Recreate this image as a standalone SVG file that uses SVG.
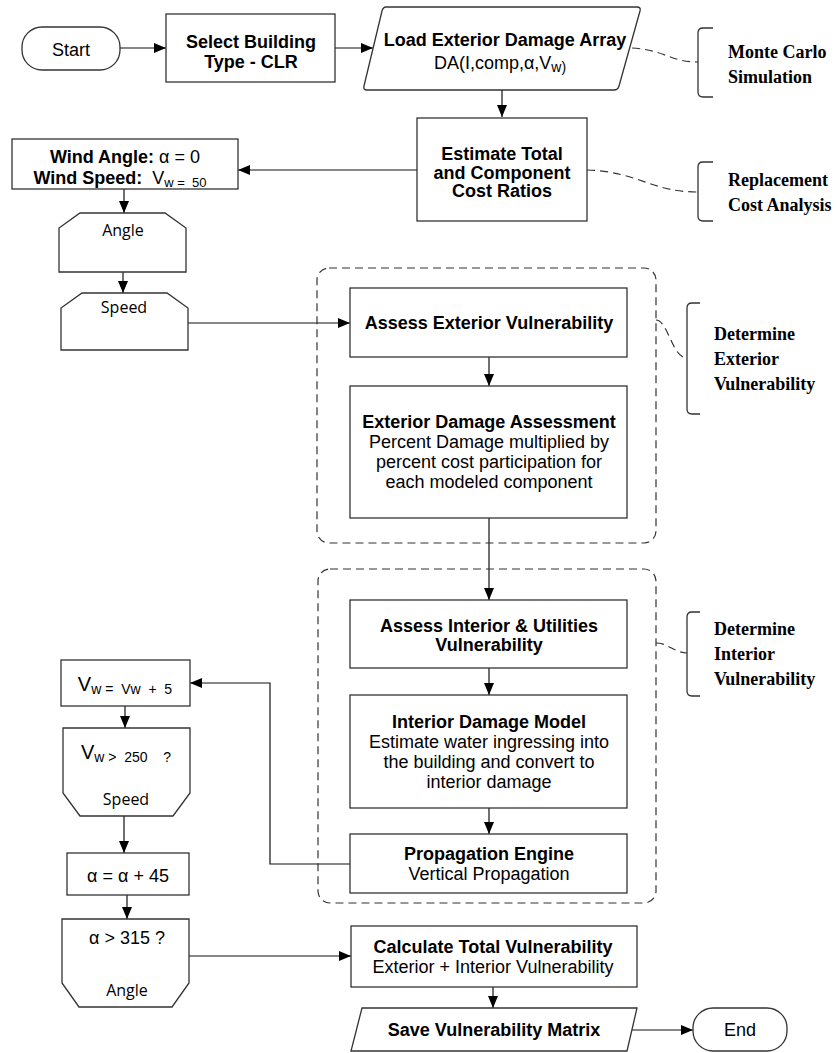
<svg xmlns="http://www.w3.org/2000/svg" width="838" height="1053" viewBox="0 0 838 1053">
<defs>
<marker id="ah" viewBox="0 0 12 10" refX="12" refY="5" markerWidth="12" markerHeight="10" markerUnits="userSpaceOnUse" orient="auto">
<path d="M0,0 L12,5 L0,10 Z" fill="#000"/>
</marker>
<style>
.box{fill:#fff;stroke:#333;stroke-width:1.3}
.cont{fill:none;stroke:#333;stroke-width:1.2;stroke-dasharray:8,5}
.con{fill:none;stroke:#111;stroke-width:1.2}
.dash{fill:none;stroke:#333;stroke-width:1.2;stroke-dasharray:8,5}
.br{fill:none;stroke:#333;stroke-width:1.3}
.b{font-family:"Liberation Sans",Arial,sans-serif;font-weight:bold;font-size:18px;fill:#000;text-anchor:middle}
.r{font-family:"Liberation Sans",Arial,sans-serif;font-size:18px;fill:#000;text-anchor:middle}
.o{font-family:"Open Sans","Noto Sans",sans-serif;font-size:16px;fill:#000;text-anchor:middle}
.s{font-family:"Liberation Serif","Times New Roman",serif;font-weight:bold;font-size:18px;fill:#000}
</style>
</defs>

<g id="connectors">
<path class="con" d="M120,48 H166" marker-end="url(#ah)"/>
<path class="con" d="M335,48 H373" marker-end="url(#ah)"/>
<path class="con" d="M502,90 V117" marker-end="url(#ah)"/>
<path class="con" d="M417,170 H238" marker-end="url(#ah)"/>
<path class="con" d="M124,189 V213" marker-end="url(#ah)"/>
<path class="con" d="M123,272 V293" marker-end="url(#ah)"/>
<path class="con" d="M188,323 H350" marker-end="url(#ah)"/>
<path class="con" d="M489,357 V386" marker-end="url(#ah)"/>
<path class="con" d="M489,518 V600" marker-end="url(#ah)"/>
<path class="con" d="M489,668 V695" marker-end="url(#ah)"/>
<path class="con" d="M489,808 V834" marker-end="url(#ah)"/>
<path class="con" d="M350,864 H270 V683 H190" marker-end="url(#ah)"/>
<path class="con" d="M125,706 V728" marker-end="url(#ah)"/>
<path class="con" d="M124,816 V853" marker-end="url(#ah)"/>
<path class="con" d="M127,895 V919" marker-end="url(#ah)"/>
<path class="con" d="M189,956 H351" marker-end="url(#ah)"/>
<path class="con" d="M493,987 V1008" marker-end="url(#ah)"/>
<path class="con" d="M632,1030 H693" marker-end="url(#ah)"/>
<path class="dash" d="M632,48 C665,50 670,62 698,62"/>
<path class="dash" d="M587,170 C640,172 650,192 698,192"/>
<path class="dash" d="M656,320 C668,320 672,358 687,358"/>
<path class="dash" d="M656,643 C668,643 675,653 687,653"/>
</g>

<g id="containers">
<rect class="cont" x="317" y="268" width="339" height="275" rx="12"/>
<rect class="cont" x="318" y="569" width="338" height="334" rx="12"/>
</g>

<g id="start">
<rect class="box" x="22" y="27" width="98" height="43" rx="20"/>
<text class="r" x="71" y="56">Start</text>
</g>

<g id="select-building">
<rect class="box" x="166" y="14" width="169" height="68"/>
<text class="b" x="251" y="48" font-size="19">Select Building</text>
<text class="b" x="251" y="68" font-size="19">Type - CLR</text>
</g>

<g id="load-array">
<path class="box" d="M386,7 H637 Q641,7 640,11 L619,86 Q618,90 614,90 H367 Q363,90 364,86 L382,11 Q383,7 386,7 Z"/>
<text class="b" x="505" y="46">Load Exterior Damage Array</text>
<text class="r" x="500" y="69" font-size="19">DA(I,comp,α,V<tspan font-size="14" dy="3">w)</tspan></text>
</g>

<g id="estimate-cost">
<rect class="box" x="417" y="118" width="170" height="103"/>
<text class="b" x="502" y="160">Estimate Total</text>
<text class="b" x="502" y="179">and Component</text>
<text class="b" x="502" y="197">Cost Ratios</text>
</g>

<g id="wind-init">
<rect class="box" x="12" y="139" width="226" height="50"/>
<text class="r" x="125" y="163"><tspan font-weight="bold">Wind Angle:</tspan> α = 0</text>
<text class="r" x="120" y="184" xml:space="preserve"><tspan font-weight="bold">Wind Speed:</tspan>  V<tspan font-size="13" dy="3">w =  50</tspan></text>
</g>

<g id="angle-loop">
<path class="box" d="M80,213 H165 L186,228 V272 H59 V228 Z"/>
<text class="o" x="123" y="236">Angle</text>
</g>

<g id="speed-loop">
<path class="box" d="M82,293 H167 L188,308 V350 H61 V308 Z"/>
<text class="o" x="124" y="313">Speed</text>
</g>

<g id="assess-exterior">
<rect class="box" x="350" y="288" width="277" height="69"/>
<text class="b" x="489" y="329">Assess Exterior Vulnerability</text>
</g>

<g id="exterior-damage">
<rect class="box" x="350" y="386" width="277" height="132"/>
<text class="b" x="489" y="428">Exterior Damage Assessment</text>
<text class="r" x="489" y="448">Percent Damage multiplied by</text>
<text class="r" x="489" y="468">percent cost participation for</text>
<text class="r" x="489" y="488">each modeled component</text>
</g>

<g id="assess-interior">
<rect class="box" x="350" y="600" width="277" height="68"/>
<text class="b" x="489" y="632">Assess Interior &amp; Utilities</text>
<text class="b" x="489" y="651">Vulnerability</text>
</g>

<g id="interior-damage">
<rect class="box" x="350" y="695" width="277" height="113"/>
<text class="b" x="489" y="728">Interior Damage Model</text>
<text class="r" x="489" y="748">Estimate water ingressing into</text>
<text class="r" x="489" y="768">the building and convert to</text>
<text class="r" x="489" y="788">interior damage</text>
</g>

<g id="propagation">
<rect class="box" x="350" y="834" width="277" height="59"/>
<text class="b" x="489" y="860">Propagation Engine</text>
<text class="r" x="489" y="880">Vertical Propagation</text>
</g>

<g id="speed-increment">
<rect class="box" x="61" y="660" width="129" height="46"/>
<text class="r" x="125" y="691" xml:space="preserve"><tspan font-size="20">V</tspan><tspan font-size="14" dy="3">w =  Vw  +  5</tspan></text>
</g>

<g id="speed-check">
<path class="box" d="M63,728 H190 V793 L173,816 H80 L63,793 Z"/>
<text class="r" x="126" y="759" xml:space="preserve"><tspan font-size="20">V</tspan><tspan font-size="14" dy="3">w &gt;  250    ?</tspan></text>
<text class="o" x="126" y="805">Speed</text>
</g>

<g id="angle-increment">
<rect class="box" x="67" y="853" width="122" height="42"/>
<text class="r" x="128" y="882">α = α + 45</text>
</g>

<g id="angle-check">
<path class="box" d="M62,919 H189 V983 L172,1007 H79 L62,983 Z"/>
<text class="r" x="127" y="944">α &gt; 315 ?</text>
<text class="o" x="127" y="996">Angle</text>
</g>

<g id="total-vulnerability">
<rect class="box" x="351" y="926" width="286" height="61"/>
<text class="b" x="493" y="953">Calculate Total Vulnerability</text>
<text class="r" x="493" y="973">Exterior + Interior Vulnerability</text>
</g>

<g id="save-matrix">
<path class="box" d="M362,1008 H637 L627,1051 H351 Z"/>
<text class="b" x="494" y="1036">Save Vulnerability Matrix</text>
</g>

<g id="end">
<rect class="box" x="693" y="1008" width="94" height="43" rx="20"/>
<text class="r" x="740" y="1036">End</text>
</g>

<g id="note-monte-carlo">
<path class="br" d="M713,28 H703 Q698,28 698,33 V92 Q698,97 703,97 H713"/>
<text class="s" x="728" y="58">Monte Carlo</text>
<text class="s" x="728" y="83">Simulation</text>
</g>

<g id="note-replacement">
<path class="br" d="M713,162 H703 Q698,162 698,167 V216 Q698,221 703,221 H713"/>
<text class="s" x="728" y="186">Replacement</text>
<text class="s" x="728" y="211">Cost Analysis</text>
</g>

<g id="note-exterior">
<path class="br" d="M700,303 H692 Q687,303 687,308 V409 Q687,414 692,414 H700"/>
<text class="s" x="714" y="340">Determine</text>
<text class="s" x="714" y="365">Exterior</text>
<text class="s" x="714" y="390">Vulnerability</text>
</g>

<g id="note-interior">
<path class="br" d="M700,612 H692 Q687,612 687,617 V691 Q687,696 692,696 H700"/>
<text class="s" x="714" y="635">Determine</text>
<text class="s" x="714" y="660">Interior</text>
<text class="s" x="714" y="685">Vulnerability</text>
</g>
</svg>
